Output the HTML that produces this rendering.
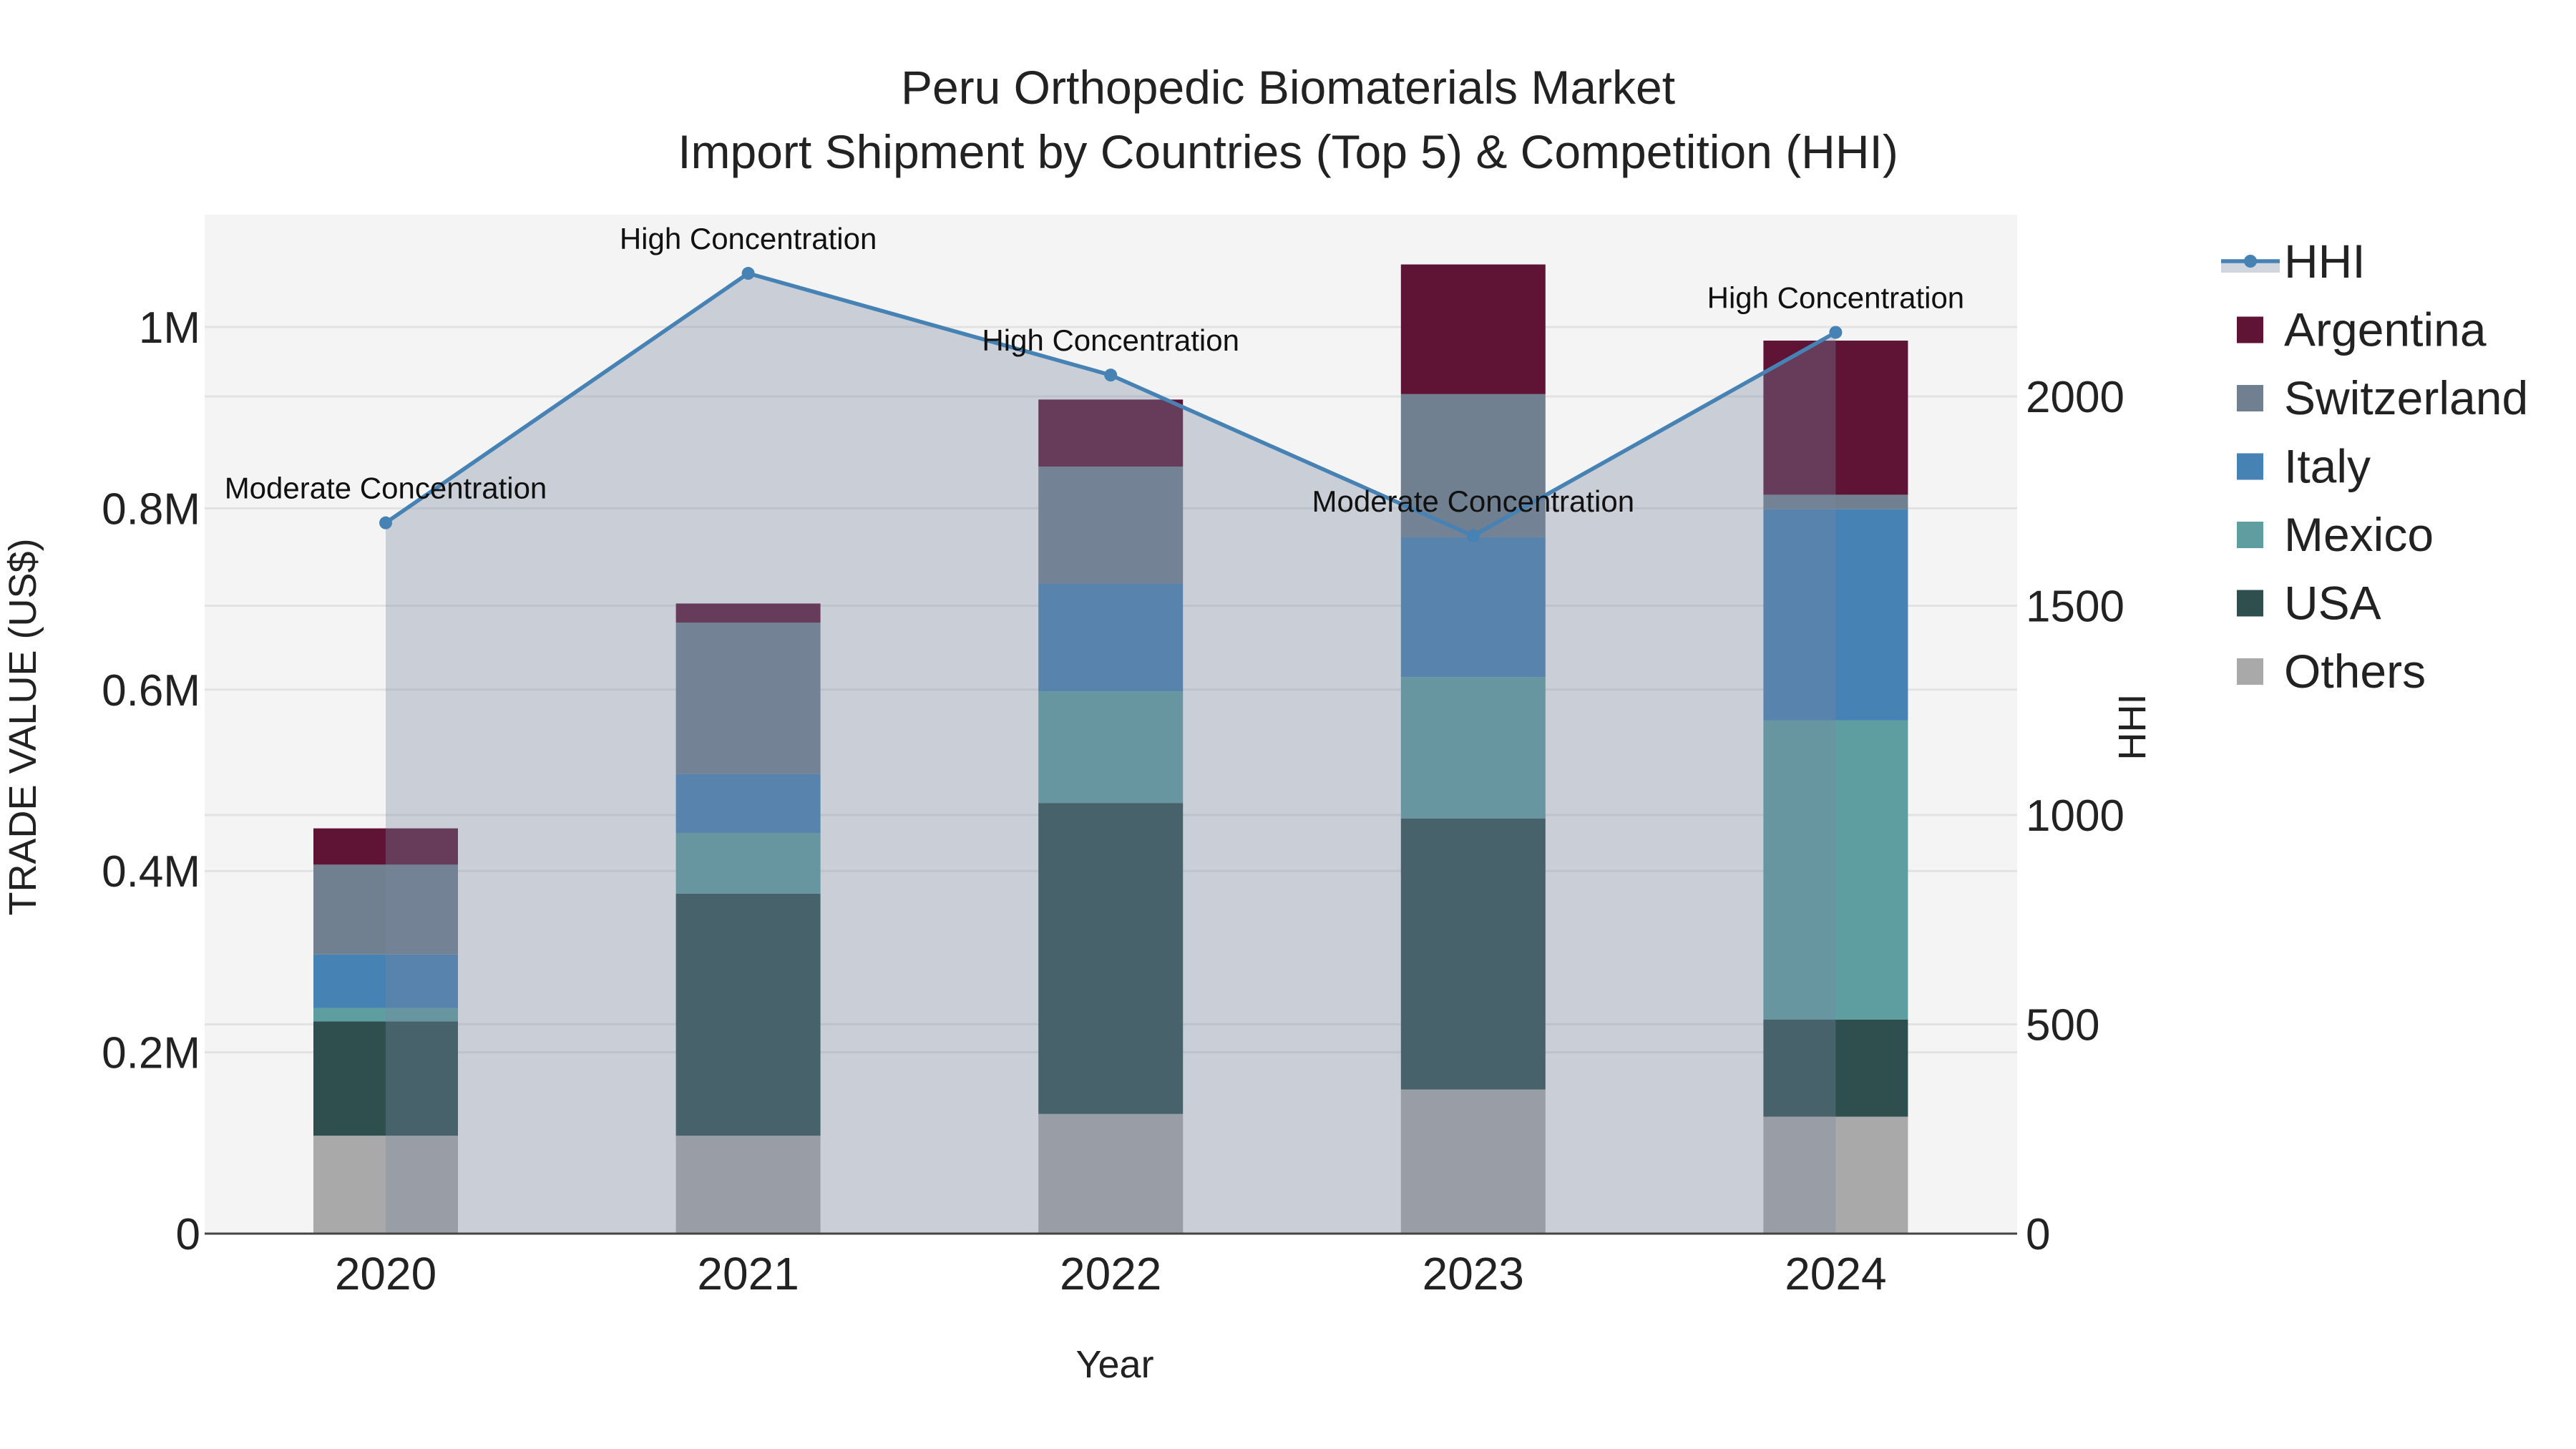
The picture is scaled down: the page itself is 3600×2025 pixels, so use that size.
<!DOCTYPE html>
<html><head><meta charset="utf-8"><style>
html,body{margin:0;padding:0;background:#fff;}
svg{display:block;font-family:"Liberation Sans",Arial,sans-serif;}
</style></head><body>
<svg id="chart" width="3600" height="2025" viewBox="0 0 3600 2025">
<rect x="0" y="0" width="3600" height="2025" fill="#ffffff"/>
<rect x="286" y="300" width="2533" height="1424" fill="#f4f4f4"/>
<g id="grid"></g>
<g id="bars"></g>
<g id="area"></g>
<g id="axes"></g>
<text x="1800" y="145" text-anchor="middle" font-size="66" fill="#222">Peru Orthopedic Biomaterials Market</text>
<text x="1800" y="235" text-anchor="middle" font-size="66" fill="#222">Import Shipment by Countries (Top 5) &amp; Competition (HHI)</text>
<text x="1558" y="1925" text-anchor="middle" font-size="54" fill="#222">Year</text>
<text transform="translate(50,1016) rotate(-90)" text-anchor="middle" font-size="54" fill="#222">TRADE VALUE (US$)</text>
<text transform="translate(2998,1016) rotate(-90)" text-anchor="middle" font-size="54" fill="#222">HHI</text>
<g id="legend"></g>
</svg>
<script>
const years = ['2020','2021','2022','2023','2024'];
const seriesNames = ['Others','USA','Mexico','Italy','Switzerland','Argentina'];
const others = [0.108,0.108,0.132,0.159,0.129];
const usa = [0.126,0.267,0.343,0.299,0.107];
const mexico = [0.015,0.067,0.123,0.156,0.330];
const italy = [0.059,0.065,0.119,0.154,0.233];
const switzerland = [0.099,0.167,0.129,0.158,0.016];
const argentina = [0.040,0.021,0.074,0.143,0.170];
const hhi = [1698,2294,2051,1667,2153];
const hhiLabels = ['Moderate Concentration','High Concentration','High Concentration','Moderate Concentration','High Concentration'];
const yTicks = [0,0.2,0.4,0.6,0.8,1.0];
const yTickLabels = ['0','0.2M','0.4M','0.6M','0.8M','1M'];
const y2Ticks = [0,500,1000,1500,2000];

const colors = {Others:'#a9a9a9',USA:'#2f4f4f',Mexico:'#5f9ea0',Italy:'#4682b4',Switzerland:'#708090',Argentina:'#5f1335'};
const seriesData = [others,usa,mexico,italy,switzerland,argentina];
const NS='http://www.w3.org/2000/svg';
const PL=286, PR=2819, PT=300, PB=1724;
const yScale = v => PB - v*1267;
const y2Scale = v => PB - v*(1170/2000);
const xScale = i => 539 + i*506.6;
const BW=202;
function mk(tag, attrs, parent){const e=document.createElementNS(NS,tag);for(const k in attrs)e.setAttribute(k,attrs[k]);parent.appendChild(e);return e;}
const grid=document.getElementById('grid'), bars=document.getElementById('bars'), area=document.getElementById('area'), axes=document.getElementById('axes'), legend=document.getElementById('legend');

yTicks.forEach((t,i)=>{
  const y=yScale(t);
  if(t>0){const g=mk('line',{x1:PL,x2:PR,y1:y,y2:y,stroke:'#e2e2e2','stroke-width':3},grid);
  
  }
  const tx=mk('text',{x:PL-6,y:y+22,'text-anchor':'end','font-size':62,fill:'#222'},axes);
  tx.textContent=yTickLabels[i];
  
  
});
y2Ticks.forEach(t=>{
  const y=y2Scale(t);
  if(t>0){const g=mk('line',{x1:PL,x2:PR,y1:y,y2:y,stroke:'#e2e2e2','stroke-width':3},grid);
  
  }
  const tx=mk('text',{x:PR+12,y:y+22,'text-anchor':'start','font-size':62,fill:'#222'},axes);
  tx.textContent=String(t);
  
  
});
years.forEach((yr,i)=>{
  const tx=mk('text',{x:xScale(i),y:1802,'text-anchor':'middle','font-size':64,fill:'#222'},axes);
  tx.textContent=yr;
  
  
});
const zl=mk('line',{x1:PL,x2:PR,y1:PB,y2:PB,stroke:'#444','stroke-width':3},axes);



years.forEach((yr,i)=>{
  let cum=0;
  seriesData.forEach((arr,s)=>{
    const v=arr[i];
    const y0=yScale(cum), y1=yScale(cum+v);
    const r=mk('rect',{x:xScale(i)-BW/2,y:y1,width:BW,height:y0-y1,fill:colors[seriesNames[s]]},bars);
    
    
    cum+=v;
  });
});

let pts=hhi.map((v,i)=>xScale(i)+','+y2Scale(v));
const poly=mk('polygon',{points:xScale(0)+','+PB+' '+pts.join(' ')+' '+xScale(hhi.length-1)+','+PB,fill:'rgba(120,135,160,0.35)'},area);


const pl=mk('polyline',{points:pts.join(' '),fill:'none',stroke:'#4682b4','stroke-width':5.5},area);


hhi.forEach((v,i)=>{
  const c=mk('circle',{cx:xScale(i),cy:y2Scale(v),r:9,fill:'#4682b4'},area);
  
  
  const t=mk('text',{x:xScale(i),y:y2Scale(v)-34,'text-anchor':'middle','font-size':42,fill:'#111'},area);
  t.textContent=hhiLabels[i];
  
  
});

// legend
const LY=365, LS=95.5;
const lg1=mk('rect',{x:3104,y:LY+2,width:82,height:14,fill:'rgba(120,135,160,0.35)'},legend);


const lg2=mk('line',{x1:3104,x2:3186,y1:LY,y2:LY,stroke:'#4682b4','stroke-width':5.5},legend);


const lg3=mk('circle',{cx:3145,cy:LY,r:9,fill:'#4682b4'},legend);


const lt=mk('text',{x:3192,y:LY+23,'font-size':66,fill:'#222'},legend);
lt.textContent='HHI';


const legOrder=['Argentina','Switzerland','Italy','Mexico','USA','Others'];
legOrder.forEach((n,k)=>{
  const y=LY+LS*(k+1);
  const r=mk('rect',{x:3126,y:y-18,width:37,height:37,fill:colors[n]},legend);
  
  
  const t=mk('text',{x:3192,y:y+23,'font-size':66,fill:'#222'},legend);
  t.textContent=n;
  
  
});
</script>
</body></html>
